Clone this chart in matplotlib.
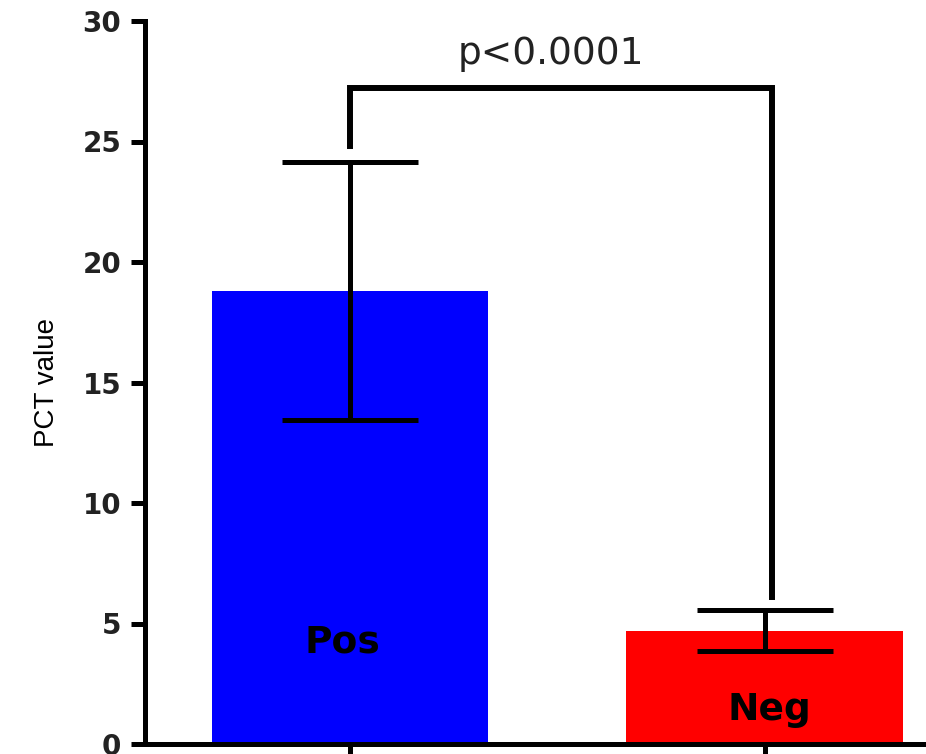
import matplotlib
matplotlib.use("Agg")
import matplotlib.pyplot as plt

categories = ["Pos", "Neg"]
means = [18.8, 4.7]
sds = [5.35, 0.85]
colors = ["#0000FF", "#FF0000"]
yticks = [0, 5, 10, 15, 20, 25, 30]
p_text = "p<0.0001"
bracket_left_bottom = 24.8
bracket_right_bottom = 6.1
bracket_top = 27.2

fig = plt.figure(figsize=(9.26, 7.54), dpi=100)
ax = fig.add_axes([145/926, 10/754, 1 - 145/926, (744-21)/754])

x = list(range(len(categories)))
ax.bar(x, means, width=0.667, color=colors, zorder=1)
ax.errorbar(x, means, yerr=sds, fmt="none", ecolor="black", elinewidth=3.6,
            capsize=49, capthick=3.6, zorder=3)

ax.set_xlim(-0.495, 1.389)
ax.set_ylim(0, 30)
ax.set_yticks(yticks)
ax.set_xticks(x)
ax.set_xticklabels([])
for s in ["top", "right"]:
    ax.spines[s].set_visible(False)
for s in ["left", "bottom"]:
    ax.spines[s].set_linewidth(3.6)
    ax.spines[s].set_capstyle("projecting")
ax.tick_params(axis="y", length=10, width=3.6, labelsize=20, pad=7)
ax.tick_params(axis="x", length=8, width=3.6)
for lab in ax.get_yticklabels():
    lab.set_fontweight("bold")
    lab.set_color("#222222")

ax.set_ylabel("PCT value", fontsize=20,
              family=["Liberation Sans Narrow", "Liberation Sans", "DejaVu Sans"],
              labelpad=16)

# significance bracket
bx0 = x[0]
bx1 = x[1] + 0.017
ax.plot([bx0, bx0, bx1, bx1],
        [bracket_left_bottom, bracket_top, bracket_top, bracket_right_bottom],
        color="black", lw=4.3, solid_joinstyle="miter", zorder=4)
ax.text((x[0] + x[1]) / 2 - 0.015, bracket_top + 0.7, p_text, ha="center", va="bottom",
        fontsize=27, color="#222222")

# bar labels
ax.text(x[0] - 0.02, 4.2, categories[0], ha="center", va="center", fontsize=27,
        fontweight="bold", color="black", zorder=5)
ax.text(x[1] + 0.01, 1.4, categories[1], ha="center", va="center", fontsize=27,
        fontweight="bold", color="black", zorder=5)

fig.savefig("out.png", dpi=100)
